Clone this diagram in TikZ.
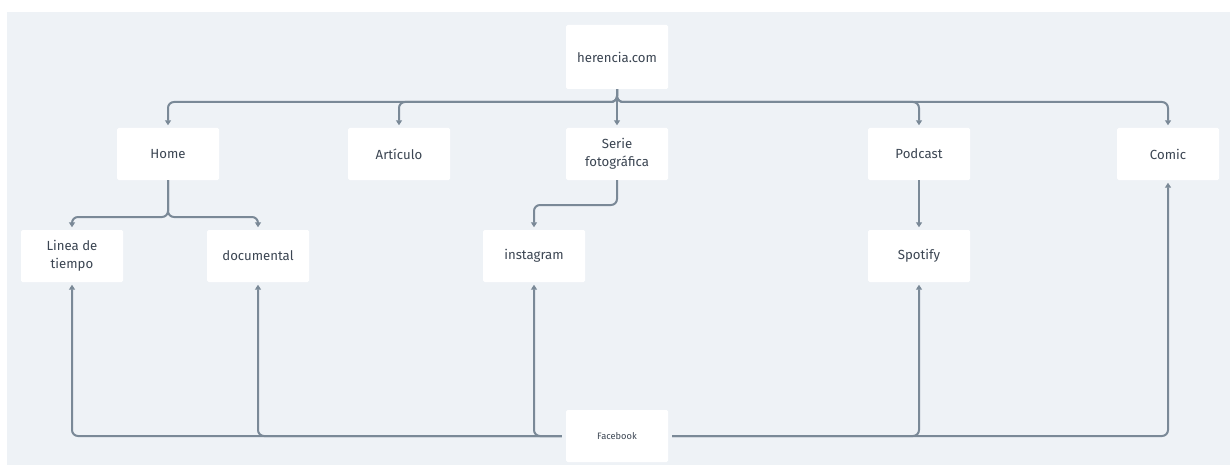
\documentclass[tikz,border=0pt]{standalone}
\usepackage{fontspec}
\setmainfont{Fira Sans}
\usetikzlibrary{arrows.meta}
\definecolor{panel}{HTML}{EEF2F6}
\definecolor{linec}{HTML}{7A8997}
\definecolor{txt}{HTML}{3B4552}
\tikzset{
  box/.style={fill=white, rounded corners=1.5pt, minimum width=102pt, minimum height=52pt,
    inner sep=0pt, text=txt, font=\fontsize{13.2}{18.5}\selectfont, align=center},
  conn/.style={draw=linec, line width=2pt, rounded corners=6pt,
    -{Triangle[width=6pt,length=5pt]}, shorten >=2.5pt},
}
\begin{document}
\begin{tikzpicture}[x=1pt,y=-1pt]
\fill[white] (0,0) rectangle (1230,465);
\fill[panel] (7,12) rectangle (1230,465);
\useasboundingbox (0,0) rectangle (1230,465);

\node[box, minimum height=64pt] (her) at (617,57) {herencia.com};
\node[box] (home) at (168,154) {Home};
\node[box] (art) at (399,154) {Artículo};
\node[box] (serie) at (617,154) {Serie\\fotográfica};
\node[box] (pod) at (919,154) {Podcast};
\node[box] (comic) at (1168,154) {Comic};
\node[box] (linea) at (72,256) {Linea de\\tiempo};
\node[box] (doc) at (258,256) {documental};
\node[box] (insta) at (534,256) {instagram};
\node[box] (spot) at (919,256) {Spotify};
\node[box, font=\fontsize{9.3}{11}\selectfont] (fb) at (617,436) {Facebook};

\coordinate (bus) at (0,102);
\coordinate (hb) at (0,217);
\coordinate (sb) at (0,205);

% top bus
\draw[conn] (her.south) |- (home.north |- bus) -- (home.north);
\draw[conn] (her.south) |- (art.north |- bus) -- (art.north);
\draw[conn] (her.south) -- (serie.north);
\draw[conn] (her.south) |- (pod.north |- bus) -- (pod.north);
\draw[conn] (her.south) |- (comic.north |- bus) -- (comic.north);

% second level
\draw[conn] (home.south) |- (linea.north |- hb) -- (linea.north);
\draw[conn] (home.south) |- (doc.north |- hb) -- (doc.north);
\draw[conn] (serie.south) |- (insta.north |- sb) -- (insta.north);
\draw[conn] (pod.south) -- (spot.north);

% Facebook
\draw[conn, shorten <=4pt] (fb.west) -| (linea.south);
\draw[conn, shorten <=4pt] (fb.west) -| (doc.south);
\draw[conn, shorten <=4pt] (fb.west) -| (insta.south);
\draw[conn, shorten <=4pt] (fb.east) -| (spot.south);
\draw[conn, shorten <=4pt] (fb.east) -| (comic.south);
\end{tikzpicture}
\end{document}
